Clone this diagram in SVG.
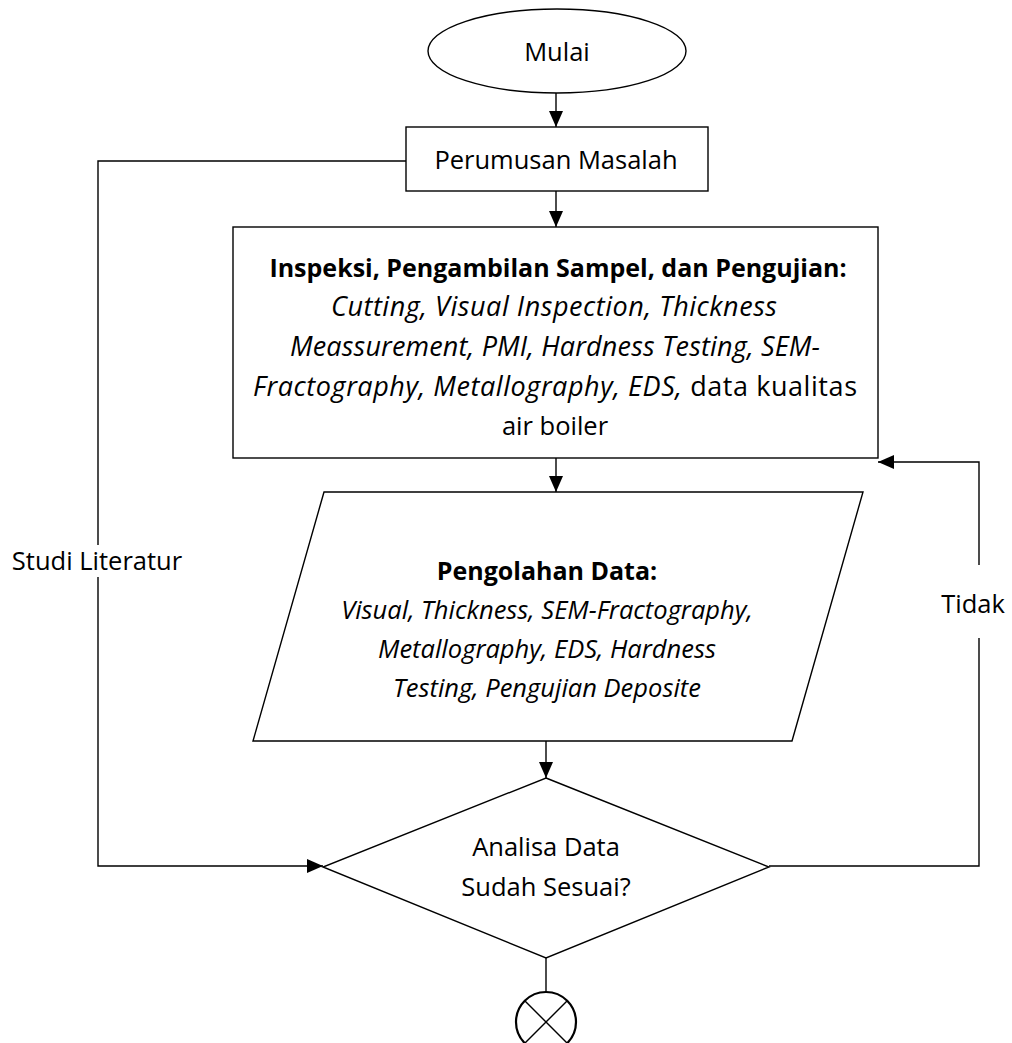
<svg xmlns="http://www.w3.org/2000/svg" width="1012" height="1043" viewBox="0 0 1012 1043">
<defs>
<marker id="arr" markerUnits="userSpaceOnUse" markerWidth="16" markerHeight="14" refX="16" refY="7" orient="auto">
<path d="M0,0 L16,7 L0,14 Z" fill="#000"/>
</marker>
<style>
.shape{fill:#fff;stroke:#000;stroke-width:1.4}
.conn{fill:none;stroke:#000;stroke-width:1.4}
text{font-family:"Open Sans","Liberation Sans",sans-serif;font-size:25.5px;fill:#000;text-anchor:middle}
.b{font-weight:bold;font-size:25px}
.i{font-style:italic}
.big{font-size:27px}
</style>
</defs>
<rect width="1012" height="1043" fill="#fff"/>
<g id="connectors">
<line class="conn" x1="556" y1="93" x2="556" y2="127" marker-end="url(#arr)"/>
<line class="conn" x1="556" y1="191" x2="556" y2="227" marker-end="url(#arr)"/>
<line class="conn" x1="556" y1="458" x2="556" y2="492" marker-end="url(#arr)"/>
<line class="conn" x1="546" y1="741" x2="546" y2="778" marker-end="url(#arr)"/>
<polyline class="conn" points="406,161 98,161 98,545"/>
<polyline class="conn" points="98,577 98,866 323,866" marker-end="url(#arr)"/>
<polyline class="conn" points="769,866 979,866 979,638"/>
<polyline class="conn" points="979,565 979,462 878,462" marker-end="url(#arr)"/>
<line class="conn" x1="546" y1="958" x2="546" y2="992"/>
<text x="97" y="570">Studi Literatur</text>
<text x="973" y="613">Tidak</text>
</g>
<g id="mulai">
<ellipse class="shape" cx="557" cy="51" rx="129" ry="42"/>
<text x="557" y="61">Mulai</text>
</g>
<g id="perumusan">
<rect class="shape" x="406" y="127" width="302" height="64"/>
<text x="556" y="169">Perumusan Masalah</text>
</g>
<g id="inspeksi">
<rect class="shape" x="233" y="227" width="645" height="231"/>
<text x="558" y="277" class="b">Inspeksi, Pengambilan Sampel, dan Pengujian:</text>
<text x="554" y="316" class="i big" textLength="446" lengthAdjust="spacing">Cutting, Visual Inspection, Thickness</text>
<text x="555" y="356" class="i big" textLength="530" lengthAdjust="spacing">Meassurement, PMI, Hardness Testing, SEM-</text>
<text x="555" y="396" class="big" textLength="604" lengthAdjust="spacing"><tspan class="i">Fractography, Metallography, EDS,</tspan> data kualitas</text>
<text x="555" y="435">air boiler</text>
</g>
<g id="pengolahan">
<polygon class="shape" points="324,492 863,492 792,741 253,741"/>
<text x="547" y="580" class="b">Pengolahan Data:</text>
<text x="547" y="619" class="i">Visual, Thickness, SEM-Fractography,</text>
<text x="547" y="658" class="i">Metallography, EDS, Hardness</text>
<text x="547" y="697" class="i">Testing, Pengujian Deposite</text>
</g>
<g id="analisa">
<polygon class="shape" points="546,778 769,867 546,958 323,867"/>
<text x="546" y="856">Analisa Data</text>
<text x="546" y="896">Sudah Sesuai?</text>
</g>
<g id="connector-end">
<circle cx="546" cy="1022" r="30" fill="#fff" stroke="#000" stroke-width="2.2"/>
<line class="conn" x1="525" y1="1001" x2="567" y2="1043"/>
<line class="conn" x1="567" y1="1001" x2="525" y2="1043"/>
</g>
</svg>
